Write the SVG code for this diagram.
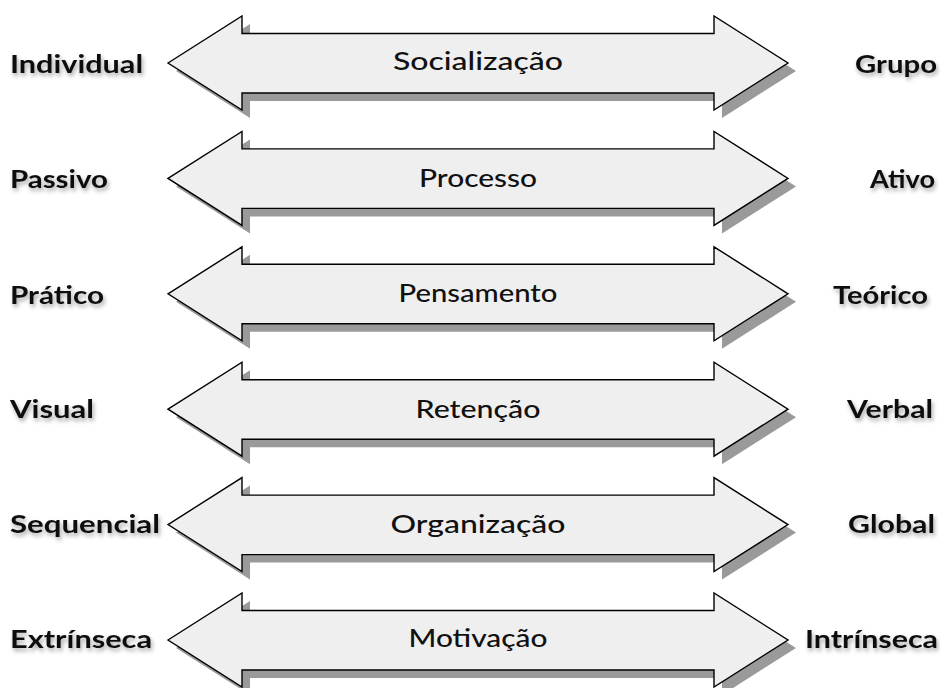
<svg xmlns="http://www.w3.org/2000/svg" width="940" height="688" viewBox="0 0 940 688">
<defs>
<path id="arrow" d="M168,0 L242,-47 L242,-29.5 L714,-29.5 L714,-47 L788,0 L714,47 L714,30 L242,30 L242,47 Z"/>
<filter id="ts" x="-10%" y="-40%" width="120%" height="200%">
<feDropShadow dx="1.5" dy="3" stdDeviation="2" flood-color="#000" flood-opacity="0.35"/>
</filter>
</defs>
<style>
.shadow{fill:#9a9a9a;stroke:none}
.body{fill:#efefef;stroke:#000;stroke-width:1.4;stroke-linejoin:miter}
.c{font-family:Lato,"Open Sans",sans-serif;font-size:25px;font-weight:500;fill:#111;text-anchor:middle}
.s{font-family:Lato,"Open Sans",sans-serif;font-size:25px;font-weight:700;fill:#111;filter:url(#ts)}
.r{text-anchor:end}
</style>
<rect width="940" height="688" fill="#fff"/>
<g id="row1" transform="translate(0,63)">
<use href="#arrow" class="shadow" transform="translate(8,8)"/>
<use href="#arrow" class="body"/>
<text class="c" x="478" y="7" textLength="170" lengthAdjust="spacingAndGlyphs">Socialização</text>
<text class="s" x="10" y="10" textLength="133" lengthAdjust="spacingAndGlyphs">Individual</text>
<text class="s r" x="937" y="10" textLength="82" lengthAdjust="spacingAndGlyphs">Grupo</text>
</g>
<g id="row2" transform="translate(0,178.4)">
<use href="#arrow" class="shadow" transform="translate(8,8)"/>
<use href="#arrow" class="body"/>
<text class="c" x="478" y="8.5" textLength="118" lengthAdjust="spacingAndGlyphs">Processo</text>
<text class="s" x="10" y="10" textLength="98" lengthAdjust="spacingAndGlyphs">Passivo</text>
<text class="s r" x="935" y="10" textLength="65" lengthAdjust="spacingAndGlyphs">Ativo</text>
</g>
<g id="row3" transform="translate(0,293.8)">
<use href="#arrow" class="shadow" transform="translate(8,8)"/>
<use href="#arrow" class="body"/>
<text class="c" x="478" y="8.5" textLength="159" lengthAdjust="spacingAndGlyphs">Pensamento</text>
<text class="s" x="10" y="10" textLength="94" lengthAdjust="spacingAndGlyphs">Prático</text>
<text class="s r" x="928" y="10" textLength="95" lengthAdjust="spacingAndGlyphs">Teórico</text>
</g>
<g id="row4" transform="translate(0,409.2)">
<use href="#arrow" class="shadow" transform="translate(8,8)"/>
<use href="#arrow" class="body"/>
<text class="c" x="478" y="8.5" textLength="125" lengthAdjust="spacingAndGlyphs">Retenção</text>
<text class="s" x="10" y="9" textLength="84" lengthAdjust="spacingAndGlyphs">Visual</text>
<text class="s r" x="933" y="9" textLength="86" lengthAdjust="spacingAndGlyphs">Verbal</text>
</g>
<g id="row5" transform="translate(0,524.6)">
<use href="#arrow" class="shadow" transform="translate(8,8)"/>
<use href="#arrow" class="body"/>
<text class="c" x="478" y="8" textLength="175" lengthAdjust="spacingAndGlyphs">Organização</text>
<text class="s" x="10" y="8" textLength="150" lengthAdjust="spacingAndGlyphs">Sequencial</text>
<text class="s r" x="935" y="8" textLength="87" lengthAdjust="spacingAndGlyphs">Global</text>
</g>
<g id="row6" transform="translate(0,640)">
<use href="#arrow" class="shadow" transform="translate(8,8)"/>
<use href="#arrow" class="body"/>
<text class="c" x="478" y="7" textLength="139" lengthAdjust="spacingAndGlyphs">Motivação</text>
<text class="s" x="10" y="8" textLength="142" lengthAdjust="spacingAndGlyphs">Extrínseca</text>
<text class="s r" x="938" y="8" textLength="133" lengthAdjust="spacingAndGlyphs">Intrínseca</text>
</g>
</svg>
